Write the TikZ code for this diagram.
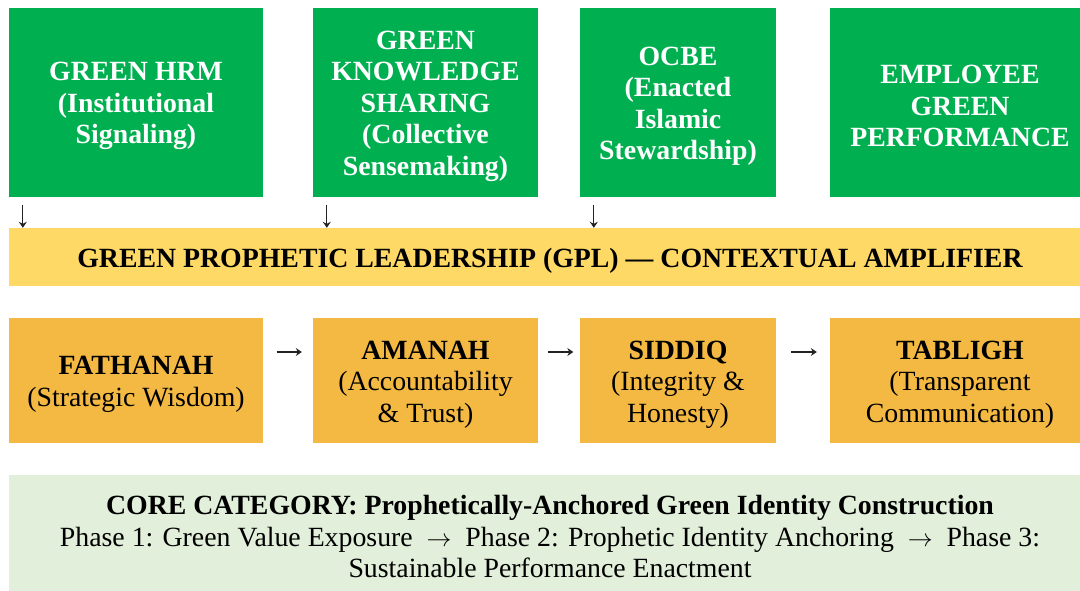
\documentclass[tikz,border=0pt]{standalone}
\usepackage{fontspec}
\setmainfont{Liberation Serif}
\usetikzlibrary{arrows.meta}

\definecolor{hrmgreen}{HTML}{00B050}
\definecolor{bandgold}{HTML}{FFD966}
\definecolor{virtueamber}{HTML}{F4B942}
\definecolor{corepale}{HTML}{E2EFDA}
\definecolor{glyphink}{HTML}{222222}

\newcommand{\phasestep}{\enspace$\rightarrow$\enspace}

\tikzset{
  basebox/.style={rectangle, draw=none, inner sep=0pt},
  % box captions sit slightly below the geometric centre
  caption/.style={align=center, inner sep=0pt, yshift=-3.8pt,
    font=\fontsize{27.8}{31.5}\selectfont},
  driverbox/.style={basebox, fill=hrmgreen, minimum height=189pt},
  drivertext/.style={caption, text=white,
    font=\fontsize{27.8}{31.5}\selectfont\bfseries},
  virtuebox/.style={basebox, fill=virtueamber, minimum height=125pt},
  bandbox/.style={basebox, fill=bandgold, minimum height=58pt},
  boldtext/.style={caption, font=\fontsize{27.8}{31.5}\selectfont\bfseries},
  corebox/.style={basebox, fill=corepale, minimum height=116pt},
  flow/.style={draw=glyphink, line width=1.1pt,
    -{Stealth[length=6pt,width=8pt,inset=2pt]}}
}

\begin{document}
\begin{tikzpicture}[x=1pt,y=-1pt]
\useasboundingbox (0,0) rectangle (1080,591);

% top row: antecedent constructs
\node[driverbox, minimum width=254pt,
  label={[drivertext]center:{GREEN HRM\\(Institutional\\Signaling)}}]
  (hrm) at (136,102.5) {};
\node[driverbox, minimum width=225pt,
  label={[drivertext]center:{GREEN\\KNOWLEDGE\\SHARING\\(Collective\\Sensemaking)}}]
  (gks) at (425.5,102.5) {};
\node[driverbox, minimum width=196pt,
  label={[drivertext]center:{OCBE\\(Enacted\\Islamic\\Stewardship)}}]
  (ocbe) at (678,102.5) {};
\node[driverbox, minimum width=260pt,
  label={[drivertext]center:{EMPLOYEE\\GREEN\\PERFORMANCE}}]
  (egp) at (960,102.5) {};

% amplifier band
\node[bandbox, minimum width=1082pt,
  label={[boldtext]center:{GREEN PROPHETIC LEADERSHIP (GPL) — CONTEXTUAL AMPLIFIER}}]
  (band) at (550,257) {};

% downward links into the band
\foreach \src in {hrm,gks,ocbe}
  \draw[flow, shorten <=8pt] ([xshift=14pt]\src.south west)
    -- ([xshift=14pt]\src.south west |- band.north);

% prophetic virtues
\node[virtuebox, minimum width=254pt,
  label={[caption]center:{\textbf{FATHANAH}\\(Strategic Wisdom)}}]
  (fat) at (136,380.5) {};
\node[virtuebox, minimum width=225pt,
  label={[caption]center:{\textbf{AMANAH}\\(Accountability\\\& Trust)}}]
  (ama) at (425.5,380.5) {};
\node[virtuebox, minimum width=196pt,
  label={[caption]center:{\textbf{SIDDIQ}\\(Integrity \&\\Honesty)}}]
  (sid) at (678,380.5) {};
\node[virtuebox, minimum width=260pt,
  label={[caption]center:{\textbf{TABLIGH}\\(Transparent\\Communication)}}]
  (tab) at (960,380.5) {};

\draw[flow, shorten <=13.5pt, shorten >=11pt]
  ([yshift=28.5pt]fat.east) -- ([yshift=28.5pt]ama.west);
\draw[flow, shorten <=9.5pt, shorten >=6.5pt]
  ([yshift=28.5pt]ama.east) -- ([yshift=28.5pt]sid.west);
\draw[flow, shorten <=15pt, shorten >=13pt]
  ([yshift=28.5pt]sid.east) -- ([yshift=28.5pt]tab.west);

% core category
\node[corebox, minimum width=1082pt,
  label={[caption]center:{\textbf{CORE CATEGORY: Prophetically-Anchored Green Identity Construction}\\
   Phase 1: Green Value Exposure\phasestep Phase 2: Prophetic Identity Anchoring\phasestep Phase 3:\\
   Sustainable Performance Enactment}}]
  (core) at (550,533) {};
\end{tikzpicture}
\end{document}
